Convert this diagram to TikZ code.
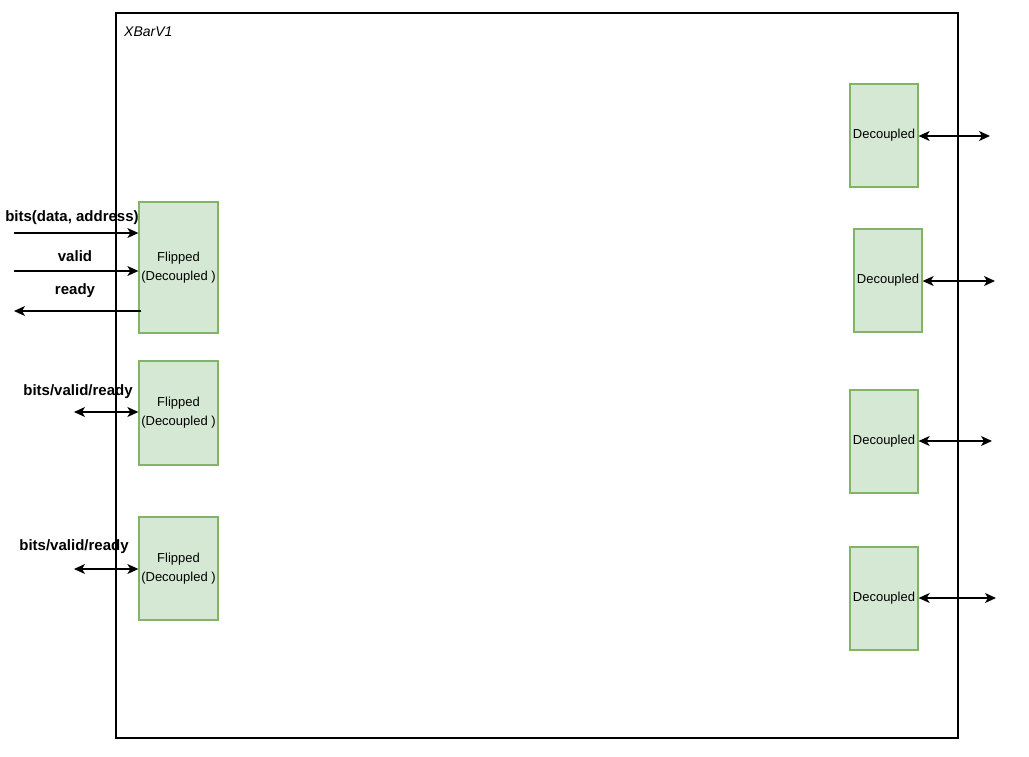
\documentclass[tikz,border=0pt]{standalone}
\usepackage{fontspec}
\setmainfont{Liberation Sans}
\usetikzlibrary{positioning,calc,arrows.meta}

\definecolor{boxfill}{HTML}{D5E8D4}
\definecolor{boxline}{HTML}{82B366}

\tikzset{
	port/.style={draw=boxline, fill=boxfill, line width=1.3pt, align=center,
		font=\fontsize{13}{19}\selectfont, inner sep=0pt},
	sig/.style={font=\bfseries\fontsize{15}{17}\selectfont, inner sep=0pt},
	arr/.style={-{Stealth[length=11pt,width=10pt,inset=3pt]}, line width=1.2pt},
	dblarr/.style={{Stealth[length=11pt,width=10pt,inset=3pt]}-{Stealth[length=11pt,width=10pt,inset=3pt]}, line width=1.2pt}
}

\begin{document}
\begin{tikzpicture}[x=1pt, y=-1pt]
			\useasboundingbox (0,0) rectangle (1029,756);
			\begin{scope}
				% outer module
				\node[draw, line width=1.5pt, minimum width=842pt, minimum height=725pt, inner sep=0pt] (xbar) at (537,375.5) {};
				\node[anchor=west, font=\itshape\fontsize{14}{16}\selectfont, inner sep=0pt] (name) at (124,32) {XBarV1};
				
				% flipped inputs
				\node[port, minimum width=79pt, minimum height=131pt] (f1) at (178.5,267.5) {Flipped\\(Decoupled )};
				\node[port, minimum width=79pt, minimum height=104pt] (f2) at (178.5,413) {Flipped\\(Decoupled )};
				\node[port, minimum width=79pt, minimum height=103pt] (f3) at (178.5,568.5) {Flipped\\(Decoupled )};
				
				% decoupled outputs
				\node[port, minimum width=68pt, minimum height=103pt] (d1) at (884,135.5) {Decoupled};
				\node[port, minimum width=68pt, minimum height=103pt] (d2) at (888,280.5) {Decoupled};
				\node[port, minimum width=68pt, minimum height=103pt] (d3) at (884,441.5) {Decoupled};
				\node[port, minimum width=68pt, minimum height=103pt] (d4) at (884,598.5) {Decoupled};
				
				\coordinate (bits) at (14,233);
				\coordinate (valid) at (14,271);
				\coordinate (ready) at (14,311);
				\coordinate (bvr2) at (74,412);
				\coordinate (bvr3) at (74,569);
				\coordinate (o1) at (990,136);
				\coordinate (o2) at (995,281);
				\coordinate (o3) at (992,441);
				\coordinate (o4) at (996,598);
				
				\draw[arr] (bits) -- (bits -| f1.west);
				\draw[arr] (valid) -- (valid -| f1.west);
				\draw[arr] ($(ready -| f1.west)+(3,0)$) -- (ready);
				\draw[dblarr] (bvr2) -- (bvr2 -| f2.west);
				\draw[dblarr] (bvr3) -- (bvr3 -| f3.west);
				
				\draw[dblarr] (d1.east |- o1) -- (o1);
				\draw[dblarr] (d2.east |- o2) -- (o2);
				\draw[dblarr] (d3.east |- o3) -- (o3);
				\draw[dblarr] (d4.east |- o4) -- (o4);
				
				\node[sig] (lbits) at (72,218) {bits(data, address)};
				\node[sig] (lvalid) at (75,256) {valid};
				\node[sig] (lready) at (75,291) {ready};
				\node[sig] (lbvr2) at (78,392) {bits/valid/ready};
				\node[sig] (lbvr3) at (74,547) {bits/valid/ready};
			\end{scope}
		\end{tikzpicture}
\end{document}
